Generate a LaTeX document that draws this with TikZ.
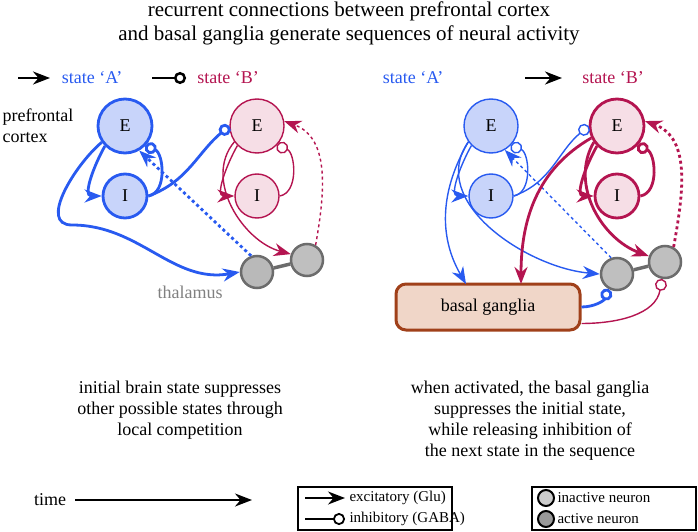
\documentclass[tikz,border=0pt]{standalone}
\usepackage{fontspec}
\setmainfont{Liberation Serif}
\usetikzlibrary{arrows.meta, positioning}
\definecolor{ablue}{RGB}{40,90,240}
\definecolor{bred}{RGB}{180,20,80}
\definecolor{afill}{RGB}{200,212,250}
\definecolor{bfill}{RGB}{246,222,230}
\definecolor{bgfill}{RGB}{240,214,200}
\definecolor{bgdraw}{RGB}{160,64,26}
\begin{document}
\begin{tikzpicture}[x=1pt, y=-1pt, font=\fontsize{18}{21}\selectfont,
    exc/.style={-{Stealth[length=17pt,width=13pt]}},
    inh/.style={-{Circle[open,length=12pt,width=12pt,fill=white]}},
    thick/.style={line width=2.8pt},
    thin/.style={line width=1.4pt},
    Ecell/.style={circle, minimum size=54pt, inner sep=0pt},
    Icell/.style={circle, minimum size=44pt, inner sep=0pt},
    lgd/.style={anchor=west, font=\fontsize{15}{17}\selectfont},
    thal/.style={circle, minimum size=32pt, inner sep=0pt, fill=gray!50, draw=gray!85!black, line width=2.5pt}]
    \useasboundingbox (0,0) rectangle (698,532);
    % title
    \node[align=center, font=\fontsize{21}{24}\selectfont] (title) at (349,23) {recurrent connections between prefrontal cortex\\and basal ganglia generate sequences of neural activity};

    % ---- left panel: state A active
    \node[text=ablue] (sA) at (92,78) {state `A'};
    \node[text=bred] (sB) at (228,78) {state `B'};
    \coordinate (la1) at (18,78); \coordinate (la2) at (50,78);
    \coordinate (lb1) at (152,78); \coordinate (lb2) at (186,78);
    \draw[exc, line width=2.5pt] (la1) -- (la2);
    \draw[inh, line width=2.5pt] (lb1) -- (lb2);
    \node[align=left] (pfc) at (38,126) {prefrontal\\cortex};

    \node[Ecell, draw=ablue, fill=afill, line width=2.8pt] (EA) at (125,126) {E};
    \node[Icell, draw=ablue, fill=afill, line width=2.8pt] (IA) at (125,196) {I};
    \node[Ecell, draw=bred, fill=bfill, line width=1.4pt] (EB) at (257,126) {E};
    \node[Icell, draw=bred, fill=bfill, line width=1.4pt] (IB) at (257,196) {I};
    \node[thal, fill=gray!55] (T1) at (257,272) {};
    \node[thal] (T2) at (307,260) {};
    \draw[gray!85!black, line width=3.5pt] (T1) -- (T2);
    \node[text=gray] (thl) at (190,292) {thalamus};

    \draw[exc, thick, ablue] (EA.225) to[out=240, in=180] (IA.west);
    \draw[inh, thick, ablue] (IA.east) to[out=10, in=-20] (EA.-45);
    \draw[inh, thick, ablue] (IA.east) to[out=20, in=220] (EB.west);
    \draw[exc, thick, ablue] (EA.215) to[out=220, in=180] (72,225) to[out=0, in=190] (T1.west);
    \draw[exc, thick, ablue, dashed] (T1.110) -- (EA.-60);
    \draw[exc, thin, bred] (EB.225) to[out=240, in=180] (IB.west);
    \draw[inh, thin, bred] (IB.east) to[out=10, in=-20] (EB.-45);
    \draw[exc, thin, bred] (EB.215) to[out=230, in=165] (T2.160);
    \draw[exc, thin, bred, dashed] (T2.60) to[out=80, in=-20] (EB.10);

    \node[align=center] (capL) at (180,410) {initial brain state suppresses\\other possible states through\\local competition};

    % ---- right panel: state B active
    \node[text=ablue] (sA2) at (413,78) {state `A'};
    \node[text=bred] (sB2) at (613,78) {state `B'};
    \coordinate (ra1) at (525,78); \coordinate (ra2) at (562,78);
    \draw[exc, line width=2.5pt] (ra1) -- (ra2);

    \node[Ecell, draw=ablue, fill=afill, line width=1.4pt] (EA2) at (491,126) {E};
    \node[Icell, draw=ablue, fill=afill, line width=1.4pt] (IA2) at (491,196) {I};
    \node[Ecell, draw=bred, fill=bfill, line width=2.8pt] (EB2) at (617,126) {E};
    \node[Icell, draw=bred, fill=bfill, line width=2.8pt] (IB2) at (617,196) {I};
    \node[thal] (T3) at (617,274) {};
    \node[thal] (T4) at (665,262) {};
    \draw[gray!85!black, line width=3.5pt] (T3) -- (T4);
    \node[draw=bgdraw, fill=bgfill, line width=3pt, rounded corners=10pt,
          minimum width=184pt, minimum height=46pt] (BG) at (488,307) {basal ganglia};
    \coordinate (bgA) at (466,284);
    \coordinate (bgB) at (521,284);

    \draw[exc, thin, ablue] (EA2.225) to[out=240, in=180] (IA2.west);
    \draw[inh, thin, ablue] (IA2.east) to[out=10, in=-20] (EA2.-45);
    \draw[inh, thin, ablue] (IA2.east) to[out=20, in=220] (EB2.west);
    \draw[exc, thin, ablue] (EA2.215) to[out=235, in=175] (T3.west);
    \draw[exc, thin, ablue] (EA2.215) to[out=240, in=120] (bgA);
    \draw[exc, thin, ablue, dashed] (T3.110) -- (EA2.-60);
    \draw[inh, thick, ablue] (BG.east) to[out=0, in=-110] (T3.-120);
    \draw[exc, thick, bred] (EB2.225) to[out=240, in=180] (IB2.west);
    \draw[inh, thick, bred] (IB2.east) to[out=10, in=-20] (EB2.-45);
    \draw[exc, thick, bred] (EB2.215) to[out=240, in=160] (T4.160);
    \draw[exc, thick, bred] (EB2.205) to[out=210, in=90] (bgB);
    \draw[exc, thick, bred, dashed] (T4.60) to[out=80, in=-20] (EB2.10);
    \draw[inh, thin, bred] (BG.-10) to[out=0, in=-100] (T4.-100);

    \node[align=center] (capR) at (530,421) {when activated, the basal ganglia\\suppresses the initial state,\\while releasing inhibition of\\the next state in the sequence};

    % ---- bottom legend
    \node (time) at (50,500) {time};
    \coordinate (t1) at (75,500); \coordinate (t2) at (252,500);
    \draw[exc, line width=1.8pt] (t1) -- (t2);
    \draw[line width=2.5pt] (298,487) rectangle (452,530);
    \coordinate (e1) at (305,498); \coordinate (e2) at (345,498);
    \coordinate (i1) at (305,519); \coordinate (i2) at (345,519);
    \draw[exc, line width=1.8pt] (e1) -- (e2);
    \draw[inh, line width=1.8pt] (i1) -- (i2);
    \node[lgd] (exL) at (346,498) {excitatory (Glu)};
    \node[lgd] (inL) at (346,519) {inhibitory (GABA)};
    \draw[line width=2.5pt] (532,487) rectangle (696,530);
    \node[circle, minimum size=16pt, inner sep=0pt, fill=gray!40, draw=black, line width=2pt] (in) at (546,498) {};
    \node[circle, minimum size=16pt, inner sep=0pt, fill=gray!80, draw=black, line width=2pt] (ac) at (546,519) {};
    \node[lgd] (inN) at (554,498) {inactive neuron};
    \node[lgd] (acN) at (554,519) {active neuron};
\end{tikzpicture}
\end{document}
